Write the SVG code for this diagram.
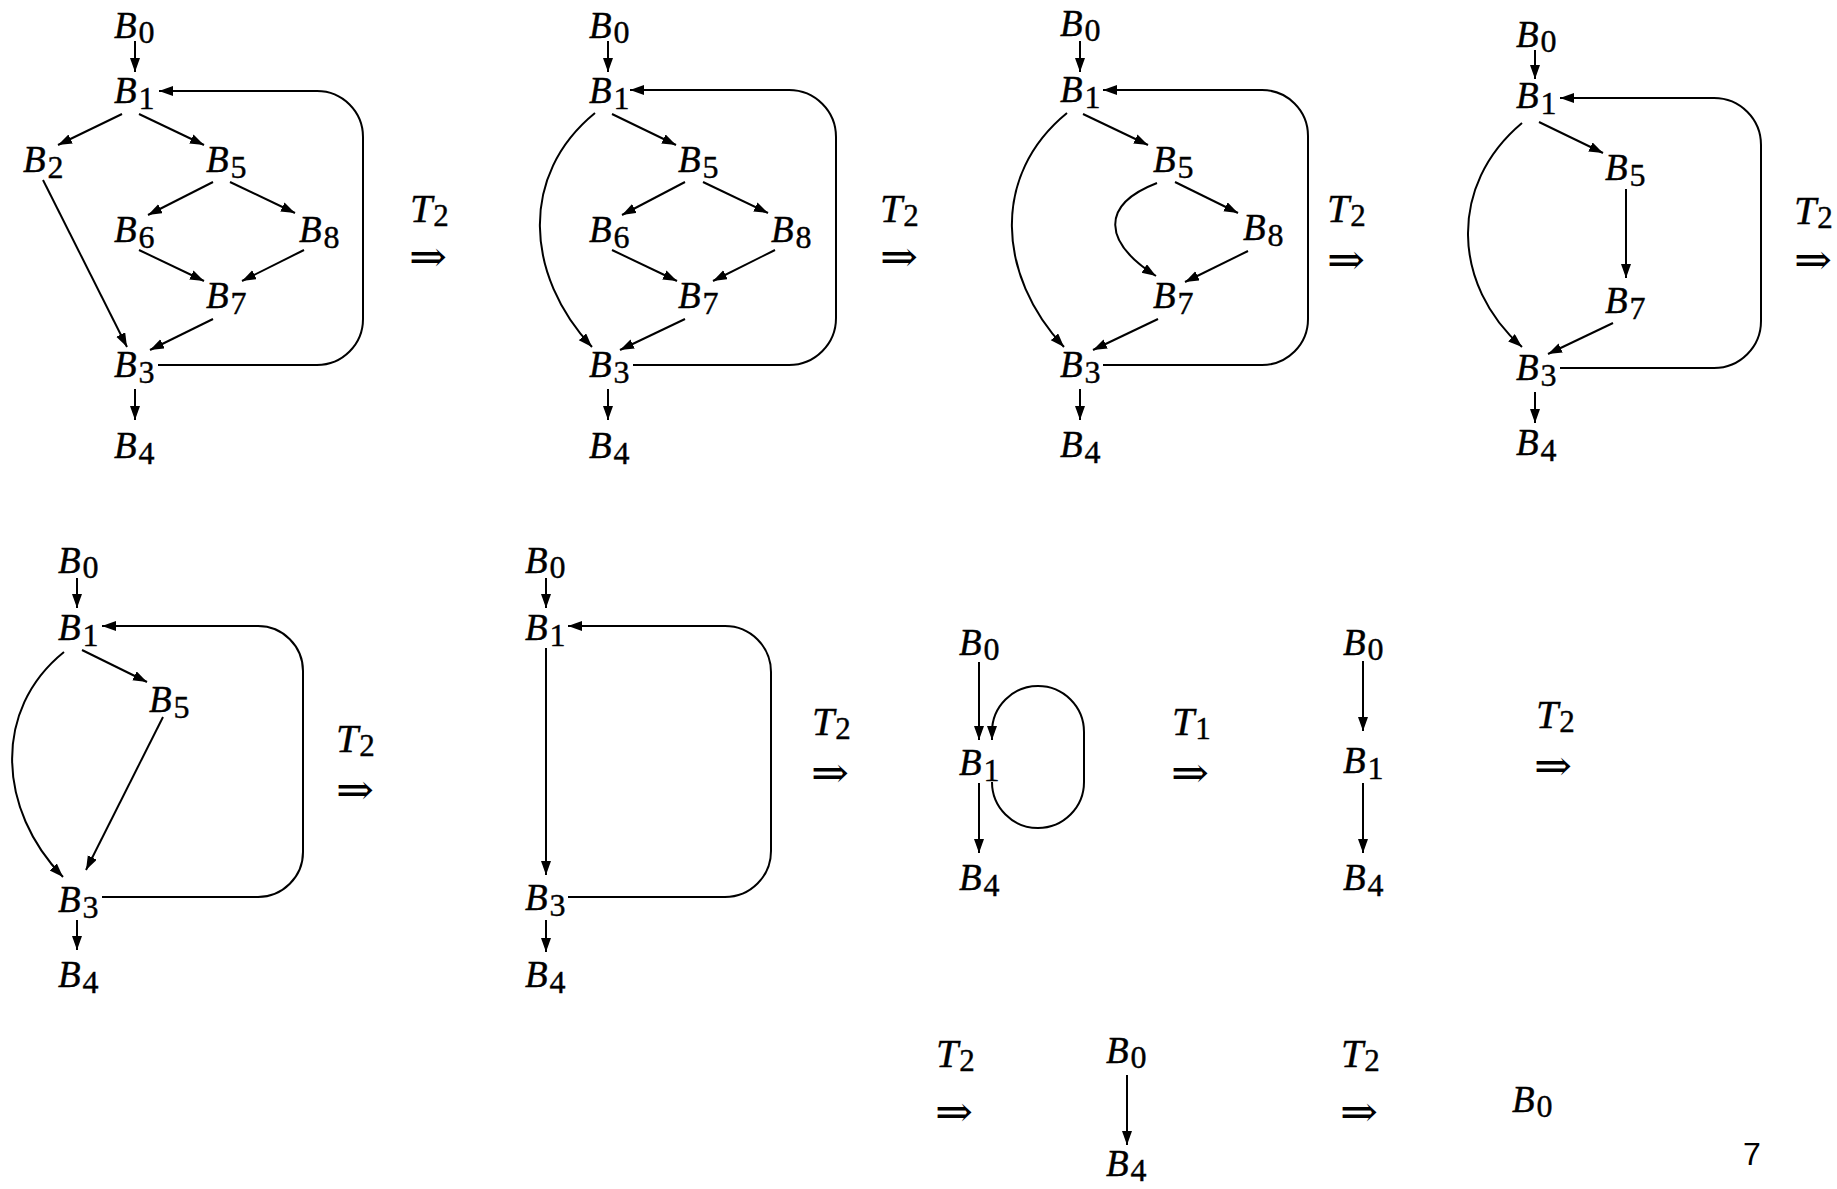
<svg xmlns="http://www.w3.org/2000/svg" width="1837" height="1189" viewBox="0 0 1837 1189">
<style>
.n{font-family:"Liberation Serif","Times New Roman",serif;font-style:italic;font-size:37px;fill:#000;stroke:#000;stroke-width:0.4}
.s{font-family:"Liberation Serif","Times New Roman",serif;font-style:normal;font-size:32px}
.t{font-family:"Liberation Serif","Times New Roman",serif;font-style:italic;font-size:40px;fill:#000;stroke:#000;stroke-width:0.4}
.ts{font-family:"Liberation Serif","Times New Roman",serif;font-style:normal;font-size:31px}
.ar{font-family:"DejaVu Serif",serif;font-size:42px;fill:#000}
.e{fill:none;stroke:#000;stroke-width:2;marker-end:url(#ah)}
.pg{font-family:"Liberation Sans",Arial,sans-serif;font-size:32px;fill:#000}
</style>
<defs>
<marker id="ah" markerUnits="userSpaceOnUse" markerWidth="15" markerHeight="11" refX="14" refY="5" orient="auto">
<path d="M0,0 L14,5 L0,10 Z" fill="#000"/>
</marker>
</defs>
<rect width="1837" height="1189" fill="#fff"/>

<g id="connectors">
<path class="e" d="M135,41 L135,72"/>
<path class="e" d="M122,114 L58,145"/>
<path class="e" d="M139,114 L204,145"/>
<path class="e" d="M43,180 L127,347"/>
<path class="e" d="M213,182 L148,215"/>
<path class="e" d="M230,182 L295,213"/>
<path class="e" d="M139,250 L204,281"/>
<path class="e" d="M304,250 L242,281"/>
<path class="e" d="M213,319 L150,350"/>
<path class="e" d="M135,389 L135,420"/>
<path class="e" d="M158,365 H317 A46,46 0 0 0 363,319 V137 A46,46 0 0 0 317,91 H159"/>
<path class="e" d="M608,41 L608,72"/>
<path class="e" d="M595,113 C519,175 525,275 592,347"/>
<path class="e" d="M612,114 L676,145"/>
<path class="e" d="M685,182 L622,215"/>
<path class="e" d="M703,182 L768,213"/>
<path class="e" d="M612,250 L677,281"/>
<path class="e" d="M775,250 L713,281"/>
<path class="e" d="M685,319 L620,350"/>
<path class="e" d="M608,389 L608,420"/>
<path class="e" d="M633,365 H789 A47,47 0 0 0 836,318 V137 A47,47 0 0 0 789,90 H630"/>
<path class="e" d="M1080,41 L1080,72"/>
<path class="e" d="M1067,113 C991,175 997,275 1064,347"/>
<path class="e" d="M1083,114 L1148,145"/>
<path class="e" d="M1157,183 C1100,205 1103,242 1156,276"/>
<path class="e" d="M1175,182 L1238,213"/>
<path class="e" d="M1248,251 L1185,282"/>
<path class="e" d="M1158,319 L1093,350"/>
<path class="e" d="M1080,389 L1080,420"/>
<path class="e" d="M1103,365 H1262 A46,46 0 0 0 1308,319 V136 A46,46 0 0 0 1262,90 H1103"/>
<path class="e" d="M1535,50 L1535,79"/>
<path class="e" d="M1522,123 C1448,185 1452,285 1522,347"/>
<path class="e" d="M1539,122 L1603,153"/>
<path class="e" d="M1626,189 L1626,278"/>
<path class="e" d="M1613,323 L1548,354"/>
<path class="e" d="M1535,392 L1535,423"/>
<path class="e" d="M1560,368 H1714 A47,47 0 0 0 1761,321 V145 A47,47 0 0 0 1714,98 H1560"/>
<path class="e" d="M77,578 L77,608"/>
<path class="e" d="M64,652 C-8,710 -2,810 63,877"/>
<path class="e" d="M82,650 L147,682"/>
<path class="e" d="M163,717 L86,870"/>
<path class="e" d="M77,920 L77,950"/>
<path class="e" d="M102,897 H258 A45,45 0 0 0 303,852 V671 A45,45 0 0 0 258,626 H102"/>
<path class="e" d="M546,578 L546,608"/>
<path class="e" d="M546,648 L546,875"/>
<path class="e" d="M546,920 L546,952"/>
<path class="e" d="M568,897 H725 A46,46 0 0 0 771,851 V672 A46,46 0 0 0 725,626 H568"/>
<path class="e" d="M979,662 L979,740"/>
<path class="e" d="M979,783 L979,853"/>
<path class="e" d="M992,782 A46,46 0 0 0 1084,782 V732 A46,46 0 0 0 992,732 V740"/>
<path class="e" d="M1363,661 L1363,731"/>
<path class="e" d="M1363,783 L1363,853"/>
<path class="e" d="M1127,1075 L1127,1145"/>
</g>

<g id="p1-B0"><text class="n" x="114" y="38">B<tspan class="s" dx="2" dy="5">0</tspan></text></g>
<g id="p1-B1"><text class="n" x="114" y="103">B<tspan class="s" dx="2" dy="6">1</tspan></text></g>
<g id="p1-B2"><text class="n" x="23" y="172">B<tspan class="s" dx="2" dy="6">2</tspan></text></g>
<g id="p1-B5"><text class="n" x="206" y="172">B<tspan class="s" dx="2" dy="6">5</tspan></text></g>
<g id="p1-B6"><text class="n" x="114" y="242">B<tspan class="s" dx="2" dy="6">6</tspan></text></g>
<g id="p1-B8"><text class="n" x="299" y="242">B<tspan class="s" dx="2" dy="6">8</tspan></text></g>
<g id="p1-B7"><text class="n" x="206" y="308">B<tspan class="s" dx="2" dy="6">7</tspan></text></g>
<g id="p1-B3"><text class="n" x="114" y="377">B<tspan class="s" dx="2" dy="6">3</tspan></text></g>
<g id="p1-B4"><text class="n" x="114" y="458">B<tspan class="s" dx="2" dy="6">4</tspan></text></g>
<g id="op1"><text class="t" x="410" y="222">T<tspan class="ts" dx="1" dy="4">2</tspan></text><text class="ar" x="409" y="271" textLength="38" lengthAdjust="spacingAndGlyphs">⇒</text></g>

<g id="p2-B0"><text class="n" x="589" y="38">B<tspan class="s" dx="2" dy="5">0</tspan></text></g>
<g id="p2-B1"><text class="n" x="589" y="103">B<tspan class="s" dx="2" dy="6">1</tspan></text></g>
<g id="p2-B5"><text class="n" x="678" y="172">B<tspan class="s" dx="2" dy="6">5</tspan></text></g>
<g id="p2-B6"><text class="n" x="589" y="242">B<tspan class="s" dx="2" dy="6">6</tspan></text></g>
<g id="p2-B8"><text class="n" x="771" y="242">B<tspan class="s" dx="2" dy="6">8</tspan></text></g>
<g id="p2-B7"><text class="n" x="678" y="308">B<tspan class="s" dx="2" dy="6">7</tspan></text></g>
<g id="p2-B3"><text class="n" x="589" y="377">B<tspan class="s" dx="2" dy="6">3</tspan></text></g>
<g id="p2-B4"><text class="n" x="589" y="458">B<tspan class="s" dx="2" dy="6">4</tspan></text></g>
<g id="op2"><text class="t" x="880" y="222">T<tspan class="ts" dx="1" dy="4">2</tspan></text><text class="ar" x="880" y="271" textLength="38" lengthAdjust="spacingAndGlyphs">⇒</text></g>

<g id="p3-B0"><text class="n" x="1060" y="36">B<tspan class="s" dx="2" dy="5">0</tspan></text></g>
<g id="p3-B1"><text class="n" x="1060" y="102">B<tspan class="s" dx="2" dy="6">1</tspan></text></g>
<g id="p3-B5"><text class="n" x="1153" y="172">B<tspan class="s" dx="2" dy="6">5</tspan></text></g>
<g id="p3-B8"><text class="n" x="1243" y="240">B<tspan class="s" dx="2" dy="6">8</tspan></text></g>
<g id="p3-B7"><text class="n" x="1153" y="308">B<tspan class="s" dx="2" dy="6">7</tspan></text></g>
<g id="p3-B3"><text class="n" x="1060" y="377">B<tspan class="s" dx="2" dy="6">3</tspan></text></g>
<g id="p3-B4"><text class="n" x="1060" y="457">B<tspan class="s" dx="2" dy="6">4</tspan></text></g>
<g id="op3"><text class="t" x="1327" y="222">T<tspan class="ts" dx="1" dy="4">2</tspan></text><text class="ar" x="1327" y="274" textLength="38" lengthAdjust="spacingAndGlyphs">⇒</text></g>

<g id="p4-B0"><text class="n" x="1516" y="47">B<tspan class="s" dx="2" dy="5">0</tspan></text></g>
<g id="p4-B1"><text class="n" x="1516" y="108">B<tspan class="s" dx="2" dy="6">1</tspan></text></g>
<g id="p4-B5"><text class="n" x="1605" y="180">B<tspan class="s" dx="2" dy="6">5</tspan></text></g>
<g id="p4-B7"><text class="n" x="1605" y="313">B<tspan class="s" dx="2" dy="6">7</tspan></text></g>
<g id="p4-B3"><text class="n" x="1516" y="380">B<tspan class="s" dx="2" dy="6">3</tspan></text></g>
<g id="p4-B4"><text class="n" x="1516" y="455">B<tspan class="s" dx="2" dy="6">4</tspan></text></g>
<g id="op4"><text class="t" x="1794" y="224">T<tspan class="ts" dx="1" dy="4">2</tspan></text><text class="ar" x="1794" y="274" textLength="38" lengthAdjust="spacingAndGlyphs">⇒</text></g>

<g id="p5-B0"><text class="n" x="58" y="573">B<tspan class="s" dx="2" dy="5">0</tspan></text></g>
<g id="p5-B1"><text class="n" x="58" y="640">B<tspan class="s" dx="2" dy="6">1</tspan></text></g>
<g id="p5-B5"><text class="n" x="149" y="712">B<tspan class="s" dx="2" dy="6">5</tspan></text></g>
<g id="p5-B3"><text class="n" x="58" y="912">B<tspan class="s" dx="2" dy="6">3</tspan></text></g>
<g id="p5-B4"><text class="n" x="58" y="987">B<tspan class="s" dx="2" dy="6">4</tspan></text></g>
<g id="op5"><text class="t" x="336" y="752">T<tspan class="ts" dx="1" dy="4">2</tspan></text><text class="ar" x="336" y="804" textLength="38" lengthAdjust="spacingAndGlyphs">⇒</text></g>

<g id="p6-B0"><text class="n" x="525" y="573">B<tspan class="s" dx="2" dy="5">0</tspan></text></g>
<g id="p6-B1"><text class="n" x="525" y="640">B<tspan class="s" dx="2" dy="6">1</tspan></text></g>
<g id="p6-B3"><text class="n" x="525" y="910">B<tspan class="s" dx="2" dy="6">3</tspan></text></g>
<g id="p6-B4"><text class="n" x="525" y="987">B<tspan class="s" dx="2" dy="6">4</tspan></text></g>
<g id="op6"><text class="t" x="812" y="735">T<tspan class="ts" dx="1" dy="4">2</tspan></text><text class="ar" x="811" y="787" textLength="38" lengthAdjust="spacingAndGlyphs">⇒</text></g>

<g id="p7-B0"><text class="n" x="959" y="655">B<tspan class="s" dx="2" dy="5">0</tspan></text></g>
<g id="p7-B1"><text class="n" x="959" y="775">B<tspan class="s" dx="2" dy="6">1</tspan></text></g>
<g id="p7-B4"><text class="n" x="959" y="890">B<tspan class="s" dx="2" dy="6">4</tspan></text></g>
<g id="op7"><text class="t" x="1172" y="735">T<tspan class="ts" dx="1" dy="4">1</tspan></text><text class="ar" x="1171" y="787" textLength="38" lengthAdjust="spacingAndGlyphs">⇒</text></g>

<g id="p8-B0"><text class="n" x="1343" y="655">B<tspan class="s" dx="2" dy="5">0</tspan></text></g>
<g id="p8-B1"><text class="n" x="1343" y="773">B<tspan class="s" dx="2" dy="6">1</tspan></text></g>
<g id="p8-B4"><text class="n" x="1343" y="890">B<tspan class="s" dx="2" dy="6">4</tspan></text></g>
<g id="op8"><text class="t" x="1536" y="728">T<tspan class="ts" dx="1" dy="4">2</tspan></text><text class="ar" x="1534" y="780" textLength="38" lengthAdjust="spacingAndGlyphs">⇒</text></g>

<g id="op9"><text class="t" x="936" y="1067">T<tspan class="ts" dx="1" dy="4">2</tspan></text><text class="ar" x="935" y="1126" textLength="38" lengthAdjust="spacingAndGlyphs">⇒</text></g>
<g id="p9-B0"><text class="n" x="1106" y="1063">B<tspan class="s" dx="2" dy="5">0</tspan></text></g>
<g id="p9-B4"><text class="n" x="1106" y="1176">B<tspan class="s" dx="2" dy="5">4</tspan></text></g>
<g id="op10"><text class="t" x="1341" y="1067">T<tspan class="ts" dx="1" dy="4">2</tspan></text><text class="ar" x="1340" y="1126" textLength="38" lengthAdjust="spacingAndGlyphs">⇒</text></g>
<g id="p10-B0"><text class="n" x="1512" y="1112">B<tspan class="s" dx="2" dy="5">0</tspan></text></g>
<g id="page"><text class="pg" x="1743" y="1165">7</text></g>
</svg>
